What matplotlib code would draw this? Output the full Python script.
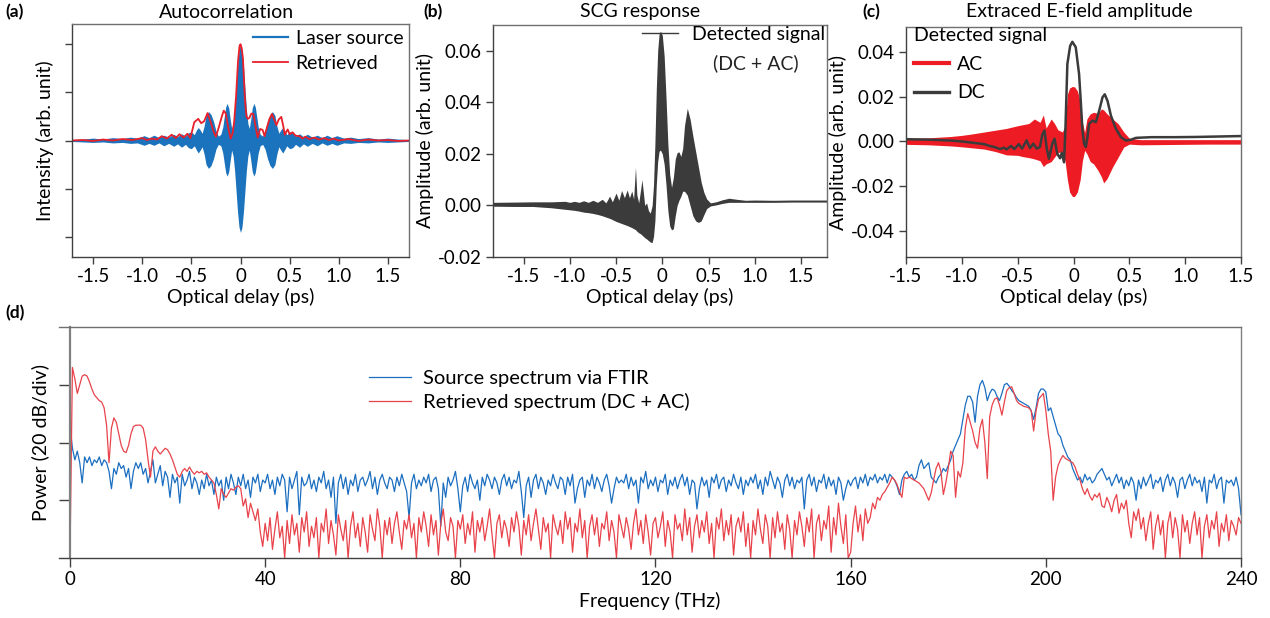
import numpy as np
import matplotlib
matplotlib.use("Agg")
import matplotlib.pyplot as plt
from matplotlib.lines import Line2D

# ---------------------------------------------------------------- data
# (a) autocorrelation: envelope of the laser fringes + retrieved trace
delay_a = [-1.72, -1.60, -1.50, -1.40, -1.30, -1.20, -1.12, -1.05, -0.98, -0.93,
           -0.88, -0.83, -0.78, -0.73, -0.68, -0.64, -0.60, -0.56, -0.53, -0.50,
           -0.47, -0.45, -0.43, -0.41, -0.39, -0.37, -0.35, -0.325, -0.30, -0.275,
           -0.25, -0.225, -0.20, -0.18, -0.165, -0.15, -0.136, -0.12, -0.105, -0.09,
           -0.075, -0.06, -0.045, -0.03, -0.015, 0.0, 0.015, 0.03, 0.045, 0.06,
           0.075, 0.09, 0.105, 0.12, 0.136, 0.15, 0.165, 0.18, 0.20, 0.225,
           0.25, 0.275, 0.30, 0.325, 0.35, 0.37, 0.39, 0.41, 0.43, 0.45,
           0.47, 0.50, 0.53, 0.56, 0.60, 0.64, 0.68, 0.73, 0.78, 0.83,
           0.88, 0.93, 0.98, 1.05, 1.12, 1.20, 1.30, 1.40, 1.50, 1.60, 1.72]
laser_up = [0.02, 0.03, 0.05, 0.03, 0.06, 0.04, 0.07, 0.05, 0.10, 0.06,
            0.11, 0.06, 0.11, 0.07, 0.13, 0.08, 0.14, 0.09, 0.16, 0.18,
            0.12, 0.21, 0.27, 0.22, 0.15, 0.30, 0.52, 0.60, 0.54, 0.40,
            0.20, 0.09, 0.13, 0.28, 0.50, 0.70, 0.77, 0.68, 0.45, 0.25,
            0.35, 0.65, 1.10, 1.55, 1.88, 1.99, 1.88, 1.55, 1.10, 0.65,
            0.35, 0.25, 0.45, 0.68, 0.77, 0.70, 0.50, 0.28, 0.13, 0.09,
            0.20, 0.40, 0.54, 0.60, 0.52, 0.30, 0.15, 0.22, 0.27, 0.21,
            0.12, 0.18, 0.16, 0.09, 0.14, 0.08, 0.13, 0.07, 0.11, 0.06,
            0.11, 0.06, 0.10, 0.05, 0.07, 0.04, 0.06, 0.03, 0.05, 0.03, 0.02]
laser_lo = [-0.02, -0.03, -0.04, -0.03, -0.05, -0.04, -0.06, -0.05, -0.10, -0.06,
            -0.10, -0.05, -0.11, -0.06, -0.12, -0.07, -0.14, -0.08, -0.15, -0.17,
            -0.11, -0.19, -0.26, -0.20, -0.13, -0.28, -0.50, -0.58, -0.52, -0.38,
            -0.18, -0.08, -0.11, -0.26, -0.47, -0.67, -0.74, -0.65, -0.42, -0.20,
            -0.32, -0.62, -1.05, -1.48, -1.80, -1.91, -1.80, -1.48, -1.05, -0.62,
            -0.32, -0.20, -0.42, -0.65, -0.74, -0.67, -0.47, -0.26, -0.11, -0.08,
            -0.18, -0.38, -0.52, -0.58, -0.50, -0.28, -0.13, -0.20, -0.26, -0.19,
            -0.11, -0.17, -0.15, -0.08, -0.14, -0.07, -0.12, -0.06, -0.11, -0.05,
            -0.10, -0.06, -0.10, -0.05, -0.06, -0.04, -0.05, -0.03, -0.04, -0.03, -0.02]
retr_delay = [-1.72, -1.60, -1.50, -1.40, -1.30, -1.20, -1.10, -1.00, -0.95, -0.90,
              -0.85, -0.80, -0.75, -0.70, -0.66, -0.62, -0.58, -0.54, -0.51, -0.47,
              -0.43, -0.40, -0.37, -0.335, -0.30, -0.27, -0.25, -0.22, -0.19, -0.17,
              -0.15, -0.12, -0.10, -0.08, -0.065, -0.045, -0.025, -0.01, 0.0, 0.012,
              0.025, 0.045, 0.06, 0.075, 0.09, 0.11, 0.13, 0.15, 0.175, 0.20,
              0.225, 0.245, 0.27, 0.295, 0.32, 0.345, 0.365, 0.39, 0.415, 0.435,
              0.45, 0.48, 0.50, 0.53, 0.56, 0.60, 0.63, 0.66, 0.70, 0.75,
              0.80, 0.85, 0.90, 0.95, 1.00, 1.10, 1.20, 1.30, 1.40, 1.50, 1.60, 1.72]
retr_val = [0.00, 0.01, -0.01, 0.02, 0.00, 0.03, 0.01, 0.05, 0.01, 0.04,
            0.02, 0.09, 0.04, 0.12, 0.05, 0.13, 0.06, 0.14, 0.05, 0.38,
            0.45, 0.36, 0.40, 0.57, 0.36, 0.16, 0.08, 0.28, 0.50, 0.62,
            0.56, 0.22, 0.04, 0.15, 0.38, 0.92, 1.65, 1.96, 2.00, 1.92,
            1.70, 0.85, 0.50, 0.45, 0.47, 0.56, 0.55, 0.33, 0.06, 0.24,
            0.22, 0.09, 0.28, 0.45, 0.55, 0.42, 0.32, 0.44, 0.49, 0.30,
            0.12, 0.23, 0.13, 0.17, 0.10, 0.09, 0.04, 0.08, 0.03, 0.06,
            0.02, 0.05, 0.01, 0.04, 0.00, 0.03, -0.01, 0.02, 0.00, 0.01, -0.01, 0.00]

# (b) SCG response, detected signal envelope (DC + AC)
delay_b = [-1.83, -1.60, -1.40, -1.20, -1.05, -1.00, -0.95, -0.90, -0.85, -0.80,
           -0.75, -0.70, -0.65, -0.61, -0.57, -0.54, -0.50, -0.47, -0.44, -0.41,
           -0.38, -0.355, -0.33, -0.31, -0.29, -0.275, -0.255, -0.235, -0.22, -0.205,
           -0.19, -0.17, -0.15, -0.13, -0.11, -0.095, -0.08, -0.065, -0.05, -0.035,
           -0.02, 0.0, 0.02, 0.04, 0.06, 0.08, 0.10, 0.12, 0.14, 0.16,
           0.18, 0.20, 0.22, 0.24, 0.27, 0.30, 0.33, 0.36, 0.39, 0.42,
           0.45, 0.48, 0.52, 0.58, 0.65, 0.72, 0.80, 0.90, 1.00, 1.20,
           1.40, 1.60, 1.78]
scg_up = [0.0012, 0.0013, 0.0014, 0.0014, 0.0016, 0.0012, 0.0016, 0.0012, 0.0018, 0.0012,
          0.0020, 0.0012, 0.0024, 0.0010, 0.0036, 0.0014, 0.0048, 0.0020, 0.0058, 0.0030,
          0.0060, 0.0030, 0.0056, 0.0025, 0.0148, 0.0040, 0.0010, 0.0060, 0.0100, 0.0050,
          0.0000, 0.0010, -0.0020, -0.0030, 0.0000, 0.0080, 0.0240, 0.0450, 0.0600, 0.0665,
          0.0676, 0.0660, 0.0580, 0.0420, 0.0240, 0.0120, 0.0070, 0.0110, 0.0180, 0.0205,
          0.0208, 0.0190, 0.0220, 0.0310, 0.0377, 0.0335, 0.0270, 0.0210, 0.0150, 0.0090,
          0.0050, 0.0025, 0.0010, 0.0014, 0.0022, 0.0028, 0.0024, 0.0020, 0.0021, 0.0020,
          0.0021, 0.0021, 0.0021]
scg_lo = [-0.0003, -0.0004, -0.0004, -0.0009, -0.0015, -0.0017, -0.0019, -0.0022, -0.0026, -0.0028,
          -0.0031, -0.0035, -0.0040, -0.0045, -0.0050, -0.0055, -0.0062, -0.0066, -0.0070, -0.0074,
          -0.0078, -0.0082, -0.0086, -0.0090, -0.0094, -0.0100, -0.0106, -0.0110, -0.0115, -0.0120,
          -0.0125, -0.0130, -0.0136, -0.0142, -0.0144, -0.0120, -0.0060, 0.0080, 0.0170, 0.0210,
          0.0215, 0.0200, 0.0160, 0.0080, -0.0020, -0.0080, -0.0095, -0.0090, -0.0040, 0.0000,
          0.0020, 0.0035, 0.0055, 0.0055, 0.0040, 0.0000, -0.0040, -0.0060, -0.0066, -0.0060,
          -0.0035, -0.0012, -0.0002, 0.0002, 0.0008, 0.0012, 0.0012, 0.0012, 0.0012, 0.0012,
          0.0013, 0.0013, 0.0013]

# (c) extracted E-field: AC envelope and DC trace
delay_c = [-1.50, -1.30, -1.10, -1.00, -0.90, -0.80, -0.70, -0.60, -0.50, -0.45,
           -0.40, -0.35, -0.30, -0.27, -0.245, -0.20, -0.17, -0.14, -0.10, -0.075,
           -0.055, -0.035, -0.01, 0.01, 0.035, 0.06, 0.08, 0.10, 0.12, 0.15,
           0.18, 0.22, 0.25, 0.27, 0.30, 0.35, 0.40, 0.45, 0.50, 0.60,
           0.80, 1.00, 1.20, 1.50]
ac_up = [0.0013, 0.0016, 0.0022, 0.0027, 0.0034, 0.0042, 0.0050, 0.0058, 0.0070, 0.0075,
         0.0080, 0.0100, 0.0085, 0.0118, 0.0060, 0.0100, 0.0080, 0.0052, 0.0042, 0.0070,
         0.0210, 0.0238, 0.0245, 0.0243, 0.0225, 0.0180, 0.0085, 0.0040, 0.0100, 0.0123,
         0.0130, 0.0125, 0.0145, 0.0140, 0.0123, 0.0100, 0.0079, 0.0042, 0.0014, 0.0008,
         0.0008, 0.0008, 0.0008, 0.0008]
ac_lo = [-0.0013, -0.0015, -0.0020, -0.0024, -0.0029, -0.0034, -0.0045, -0.0060, -0.0062, -0.0068,
         -0.0072, -0.0078, -0.0086, -0.0112, -0.0100, -0.0090, -0.0070, -0.0050, -0.0045, -0.0090,
         -0.0170, -0.0225, -0.0245, -0.0245, -0.0225, -0.0170, -0.0085, -0.0040, -0.0055, -0.0090,
         -0.0100, -0.0130, -0.0158, -0.0185, -0.0166, -0.0114, -0.0070, -0.0025, -0.0012, -0.0015,
         -0.0014, -0.0013, -0.0012, -0.0012]
dc_delay = [-1.50, -1.30, -1.10, -1.00, -0.90, -0.80, -0.75, -0.70, -0.66, -0.62,
            -0.60, -0.56, -0.53, -0.49, -0.46, -0.42, -0.39, -0.36, -0.33, -0.30,
            -0.28, -0.26, -0.24, -0.22, -0.19, -0.17, -0.145, -0.12, -0.105, -0.085,
            -0.072, -0.055, -0.03, -0.01, 0.02, 0.05, 0.065, 0.08, 0.095, 0.11,
            0.125, 0.14, 0.17, 0.20, 0.23, 0.26, 0.28, 0.305, 0.335, 0.38,
            0.425, 0.47, 0.51, 0.56, 0.70, 0.90, 1.10, 1.30, 1.50]
dc_val = [0.0010, 0.0008, 0.0004, 0.0000, -0.0006, -0.0012, -0.0020, -0.0026, -0.0034, -0.0028,
          -0.0036, -0.0020, -0.0034, -0.0012, -0.0032, 0.0005, -0.0030, -0.0010, -0.0032, -0.0025,
          0.0030, 0.0049, -0.0030, -0.0077, -0.0010, 0.0012, -0.0055, -0.0075, -0.0050, -0.0093,
          0.0060, 0.0345, 0.0426, 0.0444, 0.0420, 0.0300, 0.0180, 0.0049, -0.0010, -0.0025,
          0.0019, 0.0078, 0.0093, 0.0086, 0.0137, 0.0197, 0.0210, 0.0180, 0.0115, 0.0056,
          0.0019, 0.0004, 0.0007, 0.0016, 0.0019, 0.0019, 0.0020, 0.0022, 0.0024]

# (d) spectra in dB, sampled every 0.5 THz from 0 to 240 THz
freq = np.arange(0, 240.5, 0.5)
ftir_db = [
    46, 38, 34, 37, 33, 26, 35, 33, 35, 32, 34, 33, 35, 32, 34, 33, 30, 24, 31, 29,
    33, 31, 32, 28, 31, 24, 30, 33, 31, 33, 29, 31, 26, 30, 34, 26, 29, 32, 25, 30,
    28, 21, 29, 26, 28, 19, 29, 25, 27, 30, 24, 28, 26, 22, 27, 24, 29, 25, 27, 22,
    28, 25, 27, 20, 28, 24, 29, 26, 22, 28, 25, 29, 24, 27, 21, 28, 26, 29, 23, 27,
    26, 29, 24, 27, 22, 28, 25, 29, 27, 16, 28, 24, 27, 30, 15, 28, 25, 26, 29, 24,
    27, 23, 28, 26, 30, 24, 27, 21, 28, 12, 26, 29, 24, 28, 22, 27, 25, 29, 23, 27,
    28, 25, 27, 30, 24, 28, 22, 27, 29, 26, 24, 28, 27, 23, 28, 25, 29, 26, 23, 14,
    26, 29, 24, 27, 25, 28, 26, 29, 23, 27, 28, 24, 11, 26, 21, 28, 25, 27, 30, 24,
    16, 25, 28, 23, 29, 26, 24, 27, 20, 28, 25, 29, 27, 24, 28, 26, 22, 27, 29, 25,
    28, 24, 27, 26, 30, 23, 14, 25, 28, 21, 27, 29, 24, 28, 26, 22, 27, 25, 29, 26,
    24, 28, 27, 22, 28, 25, 29, 19, 24, 27, 28, 21, 27, 25, 29, 24, 28, 26, 23, 27,
    29, 25, 19, 24, 28, 26, 27, 26, 29, 24, 28, 25, 27, 19, 28, 26, 30, 24, 27, 25,
    28, 23, 27, 26, 29, 22, 27, 25, 28, 24, 27, 29, 25, 28, 22, 27, 26, 17, 24, 28,
    25, 27, 21, 28, 26, 29, 24, 27, 28, 23, 27, 25, 29, 26, 24, 28, 22, 27, 25, 28,
    26, 29, 24, 27, 22, 28, 25, 30, 27, 24, 28, 26, 21, 27, 29, 25, 28, 24, 27, 26,
    28, 17, 27, 29, 25, 28, 23, 27, 26, 29, 24, 28, 25, 27, 22, 28, 26, 20, 24, 27,
    25, 27, 28, 24, 28, 26, 29, 25, 28, 27, 29, 26, 28, 27, 29, 26, 29, 28, 27, 25,
    22, 27, 29, 30, 28, 29, 27, 28, 32, 34, 31, 32, 33, 28, 27, 26, 28, 29, 31, 30,
    32, 34, 37, 39, 41, 43, 48, 53, 56, 56, 54, 47, 56, 60, 61.5, 59, 54.5, 57, 58.5, 58,
    56, 54.5, 57, 60, 60.5, 59.5, 58, 57, 55.5, 54.5, 54, 53.5, 53, 52.5, 51, 48, 52, 57, 58.5, 58.5,
    57.5, 51, 52, 49, 46, 43, 42, 39, 37, 35, 34, 31, 29, 27, 28, 26, 29, 27, 28, 26,
    27, 29, 30, 31, 29, 27, 28, 25, 27, 29, 26, 28, 24, 27, 25, 28, 26, 20, 27, 24,
    28, 25, 27, 29, 24, 27, 26, 28, 23, 27, 29, 25, 28, 26, 21, 27, 28, 24, 27, 29,
    25, 28, 26, 27, 23, 28, 19, 27, 26, 29, 24, 27, 28, 19, 27, 26, 27, 25, 28, 24,
    15]
retrieved_db = [
    0, 66, 62, 57, 60, 63, 63.5, 63, 61, 58.5, 56.5, 55.5, 54.5, 54, 52, 46, 33, 45, 48.5, 47,
    43, 39, 37, 36.5, 39, 43, 45.5, 46, 46, 46, 45, 41, 34, 28, 37, 38.5, 37, 36, 37, 38,
    37.5, 36, 34, 31.5, 29, 28, 30, 31, 30, 31.5, 30, 29, 30, 29.5, 30, 29, 29.5, 28, 27, 26,
    22, 17, 24, 22, 21, 22.5, 24, 23.5, 24.5, 25, 24, 18, 20.5, 14, 19, 16, 13, 17, 9, 4,
    12, 6, 14, 3, 10, 16, 7, 11, 0, 13, 5, 15, 8, 12, 2, 14, 9, 16, 4, 11,
    7, 14, 0, 12, 9, 17, 5, 13, 8, 1, 15, 10, 6, 13, 0, 11, 16, 7, 12, 4,
    14, 9, 2, 15, 10, 6, 17, 11, 0, 13, 8, 14, 5, 12, 16, 9, 3, 13, 10, 15,
    7, 12, 0, 14, 9, 16, 11, 4, 15, 8, 13, 1, 12, 17, 9, 6, 14, 11, 0, 13,
    10, 15, 5, 12, 8, 16, 2, 13, 9, 14, 6, 11, 17, 8, 0, 12, 15, 7, 13, 10,
    4, 14, 9, 16, 11, 1, 13, 8, 15, 6, 12, 17, 10, 3, 14, 9, 12, 0, 15, 11,
    8, 13, 5, 16, 10, 14, 2, 12, 9, 17, 7, 13, 0, 11, 15, 8, 14, 4, 12, 10,
    16, 6, 13, 9, 0, 15, 11, 7, 14, 10, 3, 12, 17, 8, 13, 5, 15, 9, 1, 12,
    14, 7, 11, 16, 4, 13, 9, 0, 15, 10, 12, 6, 17, 8, 14, 2, 11, 15, 7, 13,
    9, 16, 5, 12, 0, 14, 10, 17, 6, 13, 8, 15, 1, 11, 14, 9, 16, 4, 12, 0,
    13, 8, 17, 10, 5, 15, 11, 0, 14, 7, 16, 9, 12, 3, 15, 10, 0, 13, 8, 16,
    11, 4, 14, 9, 17, 0, 12, 15, 6, 13, 10, 18, 2, 14, 8, 19, 11, 5, 15, 0,
    2, 12, 18, 9, 15, 6, 17, 12, 14, 19, 17, 21, 20, 22, 23, 24.5, 26, 28, 27, 25.5,
    23, 21, 28, 27.5, 28, 27.5, 27, 26.5, 26, 25, 24, 22, 20, 22.5, 27, 31, 33, 30, 22, 26,
    31, 37, 35.5, 21, 30, 28, 33, 45, 50, 47, 44, 40, 38, 45, 48, 40, 27.5, 49, 53, 55,
    55.5, 53, 49.5, 54, 58, 59, 59.3, 57, 54.5, 53.5, 53, 52.5, 52.3, 52, 51, 44, 51, 55, 56, 57,
    51, 43, 37, 20, 28, 32, 34, 35.5, 34.5, 34, 33.5, 33, 31.5, 29, 27, 24, 22, 24, 21.5, 20,
    22, 21, 22.5, 18, 17.5, 21, 19, 16, 20, 22, 15.5, 19, 17, 20, 12, 7, 16, 13, 17, 10,
    14, 6, 12, 16, 3, 11, 15, 8, 13, 0, 12, 16, 7, 14, 10, 0, 15, 9, 13, 5,
    12, 16, 8, 14, 0, 11, 15, 7, 13, 10, 16, 4, 12, 9, 15, 6, 13, 11, 8, 14,
    12]

delay_ticks = [-1.5, -1.0, -0.5, 0, 0.5, 1.0, 1.5]
delay_labels = ["-1.5", "-1.0", "-0.5", "0", "0.5", "1.0", "1.5"]
freq_ticks = [0, 40, 80, 120, 160, 200, 240]

# ---------------------------------------------------------------- style
plt.rcParams["font.family"] = ["Lato", "DejaVu Sans"]
plt.rcParams["axes.unicode_minus"] = False
plt.rcParams["axes.edgecolor"] = "#404040"
plt.rcParams["axes.linewidth"] = 1.0

BLUE = "#1b72bd"
RED = "#e8202a"
DARK = "#3b3b3b"
FS = 14      # labels, titles, legends
TFS = 13.5   # tick labels

W, H = 1270, 618


def rect(l, t, r, b):  # pixel box -> figure fraction
    return [l / W, 1 - b / H, (r - l) / W, (b - t) / H]


def style(ax):
    ax.tick_params(direction="out", length=5, width=1, color="#404040",
                   labelsize=TFS, pad=3)
    for s in ("top", "right"):
        ax.spines[s].set_color("#707070")


fig = plt.figure(figsize=(W / 100, H / 100), dpi=100)

# (a) -------------------------------------------------------------------
ax = fig.add_axes(rect(72, 24, 409, 257))
ax.fill_between(delay_a, laser_lo, laser_up, color=BLUE, lw=0)
ax.plot(retr_delay, retr_val, color=RED, lw=1.3)
ax.set_xlim(-1.714, 1.714)
ax.set_ylim(-2.42, 2.42)
ax.set_xticks(delay_ticks, delay_labels)
ax.set_yticks([-2, -1, 0, 1, 2], [])
ax.set_xlabel("Optical delay (ps)", fontsize=FS, labelpad=2)
ax.set_ylabel("Intensity (arb. unit)", fontsize=FS, labelpad=5)
style(ax)
ax.legend([Line2D([], [], color=BLUE, lw=1.6), Line2D([], [], color=RED, lw=1.3)],
          ["Laser source", "Retrieved"], loc="upper left", bbox_to_anchor=(0.537, 0.975),
          frameon=False, fontsize=FS, borderpad=0, borderaxespad=0,
          handlelength=1.8, handletextpad=0.4, labelspacing=0.4)

# (b) -------------------------------------------------------------------
ax = fig.add_axes(rect(493, 25, 827, 257))
ax.fill_between(delay_b, scg_lo, scg_up, color=DARK, lw=0)
ax.set_xlim(-1.83, 1.78)
ax.set_ylim(-0.02, 0.070)
ax.set_xticks(delay_ticks, delay_labels)
ax.set_yticks([-0.02, 0.0, 0.02, 0.04, 0.06])
ax.yaxis.set_major_formatter(matplotlib.ticker.FormatStrFormatter("%.2f"))
ax.set_xlabel("Optical delay (ps)", fontsize=FS, labelpad=2)
ax.set_ylabel("Amplitude (arb. unit)", fontsize=FS, labelpad=3)
style(ax)
ax.legend([Line2D([], [], color=DARK, lw=1.0)], ["Detected signal"],
          loc="upper left", bbox_to_anchor=(0.446, 0.995), frameon=False, fontsize=FS,
          borderpad=0, borderaxespad=0, handlelength=1.85, handletextpad=0.7)
ax.text(0.787, 0.836, "(DC + AC)", transform=ax.transAxes, fontsize=FS,
        ha="center", va="center", color="#222222")

# (c) -------------------------------------------------------------------
ax = fig.add_axes(rect(906, 27, 1241, 257))
ax.fill_between(delay_c, ac_lo, ac_up, color="#ed1c24", lw=0)
ax.plot(dc_delay, dc_val, color=DARK, lw=1.8)
ax.set_xlim(-1.5, 1.5)
ax.set_ylim(-0.0515, 0.051)
ax.set_xticks(delay_ticks, delay_labels)
ax.set_yticks([-0.04, -0.02, 0.0, 0.02, 0.04])
ax.yaxis.set_major_formatter(matplotlib.ticker.FormatStrFormatter("%.2f"))
ax.set_xlabel("Optical delay (ps)", fontsize=FS, labelpad=2)
ax.set_ylabel("Amplitude (arb. unit)", fontsize=FS, labelpad=3)
style(ax)
ax.legend([Line2D([], [], color="#ed1c24", lw=3), Line2D([], [], color=DARK, lw=2.4)],
          ["AC", "DC"], title="Detected signal", title_fontsize=FS,
          loc="upper left", bbox_to_anchor=(0.024, 1.0), frameon=False,
          fontsize=FS, borderpad=0, borderaxespad=0, alignment="left",
          handlelength=1.8, handletextpad=0.4, labelspacing=0.6)

# (d) -------------------------------------------------------------------
ax = fig.add_axes(rect(59, 327, 1241, 558))
ax.plot(freq, ftir_db, color="#1c6fc0", lw=0.9, label="Source spectrum via FTIR")
ax.plot(freq, retrieved_db, color="#e8434b", lw=0.9, label="Retrieved spectrum (DC + AC)")
ax.set_xlim(-2.25, 240)
ax.set_ylim(0, 80)
ax.spines["left"].set_position(("data", 0))
ax.spines["left"].set_color("#808080")
ax.spines["left"].set_linewidth(1.6)
ax.set_xticks(freq_ticks)
ax.set_yticks([20, 40, 60], [])
ax.set_xlabel("Frequency (THz)", fontsize=FS, labelpad=3)
ax.set_ylabel("Power (20 dB/div)", fontsize=FS, labelpad=4)
style(ax)
ax.tick_params(axis="y", length=8)
ax.tick_params(axis="x", length=6.5)
ax.spines["right"].set_color("#808080")
ax.legend(loc="upper left", bbox_to_anchor=(0.262, 0.815), frameon=False, fontsize=14.5,
          borderpad=0, borderaxespad=0, handlelength=2.1, handletextpad=0.6,
          labelspacing=0.3)

# titles and panel tags ------------------------------------------------
for x, t in [(226, "Autocorrelation"), (640, "SCG response"),
             (1079, "Extraced E-field amplitude")]:
    fig.text(x / W, 1 - 12 / H, t, ha="center", va="center", fontsize=FS)
for x, y, t in [(5, 12, "(a)"), (423, 12, "(b)"), (862, 12, "(c)"), (5, 313, "(d)")]:
    fig.text(x / W, 1 - y / H, t, ha="left", va="center", fontsize=12.5, fontweight="bold")

fig.savefig("out.png", dpi=100)
